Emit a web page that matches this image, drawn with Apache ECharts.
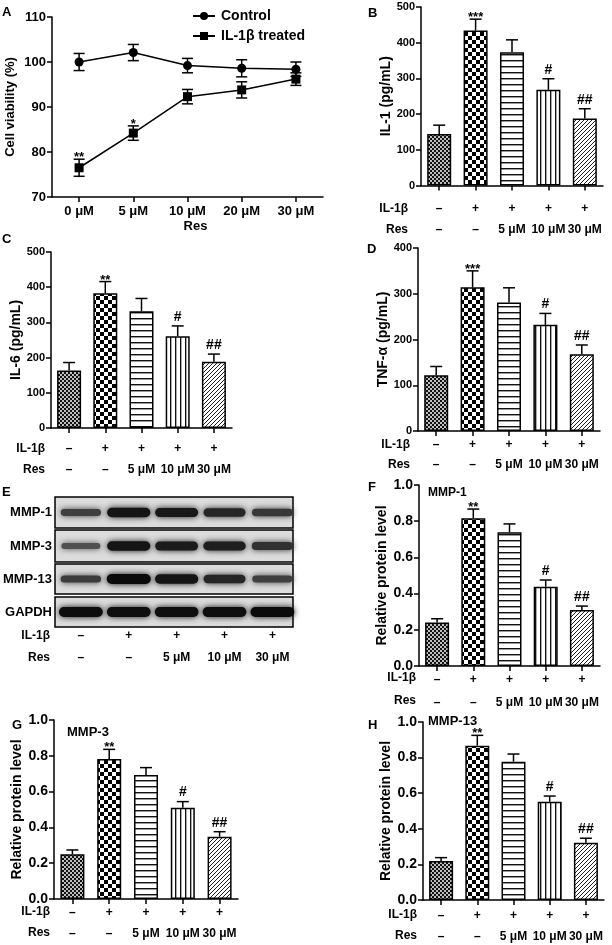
<!DOCTYPE html>
<html>
<head>
<meta charset="utf-8">
<script src="https://cdn.jsdelivr.net/npm/echarts@6.0.0/dist/echarts.min.js"></script>
<style>html,body{margin:0;padding:0;background:#fff;}#chart{width:612px;height:945px;}</style>
</head>
<body>
<div id="chart"></div>
<script>
// ---------------- data ----------------
const doseCategories = ['0 μM', '5 μM', '10 μM', '20 μM', '30 μM'];
const controlMean = [100.0, 102.1, 99.2, 98.6, 98.4];
const controlSem  = [1.9, 1.8, 1.6, 1.9, 1.6];
const treatedMean = [76.5, 84.2, 92.3, 93.8, 96.2];
const treatedSem  = [1.9, 1.6, 1.6, 1.8, 1.4];
const treatedMarks = ['**', '*', '', '', ''];
const controlMarks = ['', '', '', '', ''];

const il1bRow = ['–', '+', '+', '+', '+'];
const resRow  = ['–', '–', '5 μM', '10 μM', '30 μM'];

const il1Mean = [144, 434, 373, 268, 188];
const il1Sem  = [25, 32, 35, 31, 27];
const il1Marks = ['', '***', '', '#', '##'];

const il6Mean = [163, 383, 332, 261, 188];
const il6Sem  = [23, 33, 36, 29, 22];
const il6Marks = ['', '**', '', '#', '##'];

const tnfMean = [122, 314, 281, 232, 168];
const tnfSem  = [19, 36, 32, 25, 20];
const tnfMarks = ['', '***', '', '#', '##'];

const mmp1Mean = [0.240, 0.816, 0.739, 0.438, 0.309];
const mmp1Sem  = [0.021, 0.051, 0.046, 0.037, 0.022];
const mmp3Mean = [0.250, 0.782, 0.693, 0.510, 0.348];
const mmp3Sem  = [0.024, 0.054, 0.041, 0.034, 0.028];
const mmp13Mean = [0.219, 0.867, 0.777, 0.552, 0.322];
const mmp13Sem  = [0.019, 0.058, 0.043, 0.032, 0.025];
const proteinMarks = ['', '**', '', '#', '##'];

const blotProteins = ['MMP-1', 'MMP-3', 'MMP-13', 'GAPDH'];
const mmp1Band  = [0.62, 0.92, 0.90, 0.80, 0.68];
const mmp3Band  = [0.50, 0.92, 0.88, 0.85, 0.72];
const mmp13Band = [0.64, 1.00, 0.93, 0.80, 0.62];
const gapdhBand = [0.98, 0.97, 0.97, 0.97, 0.99];

// ---------------- styles ----------------
const SANS = '"Liberation Sans", Arial, Helvetica, sans-serif';

function makePattern(kind) {
  const c = document.createElement('canvas');
  const ctx = c.getContext('2d');
  if (kind === 0) {            // fine checker
    c.width = 4; c.height = 4;
    ctx.fillStyle = '#c0c0c0'; ctx.fillRect(0, 0, 4, 4);
    ctx.fillStyle = '#111'; ctx.fillRect(0, 0, 2, 2); ctx.fillRect(2, 2, 2, 2);
  } else if (kind === 1) {     // coarse checker
    c.width = 8; c.height = 8;
    ctx.fillStyle = '#fff'; ctx.fillRect(0, 0, 8, 8);
    ctx.fillStyle = '#000'; ctx.fillRect(0, 0, 4, 4); ctx.fillRect(4, 4, 4, 4);
  } else if (kind === 2) {     // horizontal lines
    c.width = 4; c.height = 6;
    ctx.fillStyle = '#fff'; ctx.fillRect(0, 0, 4, 6);
    ctx.fillStyle = '#111'; ctx.fillRect(0, 0, 4, 1);
    ctx.fillStyle = '#999'; ctx.fillRect(0, 1, 4, 1);
  } else if (kind === 3) {     // vertical lines
    c.width = 5; c.height = 4;
    ctx.fillStyle = '#fff'; ctx.fillRect(0, 0, 5, 4);
    ctx.fillStyle = '#111'; ctx.fillRect(0, 0, 1, 4);
    ctx.fillStyle = '#aaa'; ctx.fillRect(1, 0, 1, 4);
  } else {                     // diagonal '/'
    c.width = 4; c.height = 4;
    ctx.fillStyle = '#fff'; ctx.fillRect(0, 0, 4, 4);
    ctx.fillStyle = '#222';
    for (let y = 0; y < 4; y++) ctx.fillRect(3 - y, y, 1, 1);
  }
  return { image: c, repeat: 'repeat' };
}
const barPatterns = [0, 1, 2, 3, 4].map(makePattern);

const AXIS_LINE = { show: true, onZero: false, lineStyle: { color: '#000', width: 1.5 } };
const AXIS_TICK = { show: true, length: 5, lineStyle: { color: '#000', width: 1.5 } };

function errRender(marks, capHalf, both) {
  return function (params, api) {
    const i = params.dataIndex;
    const x = api.value(0), m = api.value(1), e = api.value(2);
    const top = api.coord([x, m + e]);
    const bot = api.coord([x, both ? m - e : m]);
    const ls = { stroke: '#000', lineWidth: 1.5 };
    const children = [
      { type: 'line', shape: { x1: top[0], y1: top[1], x2: bot[0], y2: bot[1] }, style: ls },
      { type: 'line', shape: { x1: top[0] - capHalf, y1: top[1], x2: top[0] + capHalf, y2: top[1] }, style: ls }
    ];
    if (both) children.push({ type: 'line', shape: { x1: bot[0] - capHalf, y1: bot[1], x2: bot[0] + capHalf, y2: bot[1] }, style: ls });
    const a = marks[i];
    if (a) {
      const star = a[0] === '*';
      children.push({ type: 'text', style: {
        text: a, x: top[0], y: top[1] + (star ? 5 : -2), align: 'center', verticalAlign: 'bottom',
        fontSize: star ? 13 : 14, fontWeight: 'bold', fontFamily: SANS, fill: '#000' } });
    }
    return { type: 'group', children: children };
  };
}

const grids = [], xAxes = [], yAxes = [], series = [], graphics = [];

function txt(x, y, s, size, align, weight) {
  graphics.push({ type: 'text', x: x, y: y, silent: true, style: {
    text: s, fontSize: size, fontWeight: weight || 'bold', fontFamily: SANS, fill: '#000',
    align: align || 'left', verticalAlign: 'middle' } });
}

// ---------------- Panel A ----------------
grids.push({ left: 52, top: 17, width: 271, height: 180 });
xAxes.push({ type: 'category', gridIndex: 0, data: doseCategories, boundaryGap: true,
  axisLine: AXIS_LINE, axisTick: Object.assign({ alignWithLabel: true }, AXIS_TICK),
  axisLabel: { interval: 0, margin: 8, fontSize: 13, fontWeight: 'bold', fontFamily: SANS, color: '#000' },
  name: 'Res', nameLocation: 'middle', nameGap: 23,
  nameTextStyle: { fontSize: 13, fontWeight: 'bold', fontFamily: SANS, color: '#000', padding: [0, 0, 0, 16] } });
yAxes.push({ type: 'value', gridIndex: 0, min: 70, max: 110, interval: 10,
  axisLine: AXIS_LINE, axisTick: AXIS_TICK, splitLine: { show: false },
  axisLabel: { margin: 6, fontSize: 13, fontWeight: 'bold', fontFamily: SANS, color: '#000' },
  name: 'Cell viability (%)', nameLocation: 'middle', nameGap: 35,
  nameTextStyle: { fontSize: 13, fontWeight: 'bold', fontFamily: SANS, color: '#000' } });
series.push({ type: 'line', name: 'Control', xAxisIndex: 0, yAxisIndex: 0, data: controlMean,
  symbol: 'circle', symbolSize: 9, lineStyle: { color: '#000', width: 1.5 }, itemStyle: { color: '#000' }, z: 4 });
series.push({ type: 'line', name: 'IL-1β treated', xAxisIndex: 0, yAxisIndex: 0, data: treatedMean,
  symbol: 'rect', symbolSize: 9, lineStyle: { color: '#000', width: 1.5 }, itemStyle: { color: '#000' }, z: 4 });
series.push({ type: 'custom', xAxisIndex: 0, yAxisIndex: 0, z: 5,
  data: controlMean.map((v, i) => [i, v, controlSem[i]]), renderItem: errRender(controlMarks, 5.5, true) });
series.push({ type: 'custom', xAxisIndex: 0, yAxisIndex: 0, z: 5,
  data: treatedMean.map((v, i) => [i, v, treatedSem[i]]), renderItem: errRender(treatedMarks, 5.5, true) });

// ---------------- bar panels ----------------
function addBarPanel(o) {
  const gi = grids.length;
  grids.push({ left: o.left, top: o.top, width: o.width, height: o.height });
  xAxes.push({ type: 'category', gridIndex: gi, data: ['0', '1', '2', '3', '4'], boundaryGap: true,
    axisLine: AXIS_LINE, axisTick: Object.assign({ alignWithLabel: true }, AXIS_TICK),
    axisLabel: { interval: 0, margin: o.lm, lineHeight: o.lh, fontSize: 12, fontWeight: 'bold', fontFamily: SANS, color: '#000',
      formatter: (v, i) => il1bRow[i] + '\n' + resRow[i] } });
  yAxes.push({ type: 'value', gridIndex: gi, min: 0, max: o.max, interval: o.interval,
    axisLine: AXIS_LINE, axisTick: AXIS_TICK, splitLine: { show: false },
    axisLabel: { margin: 6, fontSize: o.narrow ? 11 : 14, fontWeight: 'bold', fontFamily: SANS, color: '#000',
      formatter: o.narrow ? null : (v) => v.toFixed(1) },
    name: o.name, nameLocation: 'middle', nameGap: o.nameGap,
    nameTextStyle: { fontSize: 14, fontWeight: 'bold', fontFamily: SANS, color: '#000' } });
  series.push({ type: 'bar', xAxisIndex: gi, yAxisIndex: gi, barWidth: 24, silent: true,
    data: o.mean.map((v, i) => ({ value: v, itemStyle: { color: barPatterns[i] } })),
    itemStyle: { borderColor: '#000', borderWidth: 1.5 } });
  series.push({ type: 'custom', xAxisIndex: gi, yAxisIndex: gi, z: 5,
    data: o.mean.map((v, i) => [i, v, o.sem[i]]), renderItem: errRender(o.marks, 6, false) });
}

addBarPanel({ left: 421, top: 7, width: 182, height: 178.5, max: 500, interval: 100, narrow: true,
  name: 'IL-1 (pg/mL)', nameGap: 24, mean: il1Mean, sem: il1Sem, marks: il1Marks, lm: 13, lh: 21 });
addBarPanel({ left: 51, top: 252, width: 181, height: 176, max: 500, interval: 100, narrow: true,
  name: 'IL-6 (pg/mL)', nameGap: 23, mean: il6Mean, sem: il6Sem, marks: il6Marks, lm: 10, lh: 21 });
addBarPanel({ left: 418, top: 248, width: 182, height: 183, max: 400, interval: 100, narrow: true,
  name: 'TNF-α (pg/mL)', nameGap: 23, mean: tnfMean, sem: tnfSem, marks: tnfMarks, lm: 4, lh: 20 });

// ---------------- Panel E (blot) ----------------
const bandRows = [mmp1Band, mmp3Band, mmp13Band, gapdhBand];
const blotBoxes = [[497, 31], [530, 32], [564, 30], [597, 30]];
bandRows.forEach((row, r) => {
  const gi = grids.length;
  grids.push({ left: 55, top: blotBoxes[r][0], width: 238, height: blotBoxes[r][1], show: true,
    backgroundColor: '#dcdcdc', borderColor: '#000', borderWidth: 1.5 });
  xAxes.push({ type: 'value', gridIndex: gi, min: -0.54, max: 4.43, show: false });
  yAxes.push({ type: 'category', gridIndex: gi, data: [blotProteins[r]],
    axisLine: { show: false }, axisTick: { show: false }, splitLine: { show: false },
    axisLabel: { margin: 3, fontSize: 13, fontWeight: 'bold', fontFamily: SANS, color: '#000' } });
  const last = r === bandRows.length - 1;
  series.push({ type: 'custom', xAxisIndex: gi, yAxisIndex: gi, clip: false,
    data: row.map((d, i) => [i, 0, d]),
    renderItem: function (params, api) {
      const lane = api.value(0), d = api.value(2);
      const c = api.coord([lane, 0]);
      const w = 34 + 10 * d, h = 2 + 8 * d;
      const g = Math.round(150 - 140 * d);
      const col = 'rgb(' + g + ',' + g + ',' + g + ')';
      const children = [{ type: 'rect', shape: { x: c[0] - w / 2, y: c[1] - h / 2, width: w, height: h, r: h / 2 },
        style: { fill: col, shadowBlur: 6, shadowColor: col } }];
      if (last) {
        const by = params.coordSys.y + params.coordSys.height;
        children.push({ type: 'text', style: { text: il1bRow[params.dataIndex], x: c[0], y: by + 9, align: 'center', verticalAlign: 'middle',
          fontSize: 12, fontWeight: 'bold', fontFamily: SANS, fill: '#000' } });
        children.push({ type: 'text', style: { text: resRow[params.dataIndex], x: c[0], y: by + 31, align: 'center', verticalAlign: 'middle',
          fontSize: 12, fontWeight: 'bold', fontFamily: SANS, fill: '#000' } });
      }
      return { type: 'group', children: children };
    } });
});

// ---------------- Panels F, G, H ----------------
addBarPanel({ left: 419, top: 485, width: 181, height: 181, max: 1, interval: 0.2, narrow: false,
  name: 'Relative protein level', nameGap: 28, mean: mmp1Mean, sem: mmp1Sem, marks: proteinMarks, lm: 2, lh: 23 });
addBarPanel({ left: 54, top: 720, width: 184, height: 179, max: 1, interval: 0.2, narrow: false,
  name: 'Relative protein level', nameGap: 28, mean: mmp3Mean, sem: mmp3Sem, marks: proteinMarks, lm: 3, lh: 21 });
addBarPanel({ left: 423, top: 722, width: 181, height: 178, max: 1, interval: 0.2, narrow: false,
  name: 'Relative protein level', nameGap: 30, mean: mmp13Mean, sem: mmp13Sem, marks: proteinMarks, lm: 5, lh: 21 });

// ---------------- texts ----------------
txt(2, 12, 'A', 13); txt(368, 13, 'B', 13); txt(2, 239, 'C', 13); txt(367, 249, 'D', 13);
txt(2, 492, 'E', 13); txt(368, 487, 'F', 13); txt(12, 725, 'G', 13); txt(368, 725, 'H', 13);

[[408, 209, 230], [45, 449, 470], [410, 445, 465], [50, 636, 658], [416, 678, 701], [50, 912, 933], [417, 915, 936]]
  .forEach(p => { txt(p[0], p[1], 'IL-1β', 12, 'right'); txt(p[0], p[2], 'Res', 12, 'right'); });

txt(428, 493, 'MMP-1', 12); txt(67, 732, 'MMP-3', 13); txt(428, 721, 'MMP-13', 13);

const chart = echarts.init(document.getElementById('chart'), null, { renderer: 'canvas', width: 612, height: 945 });
chart.setOption({
  backgroundColor: '#fff',
  animation: false,
  grid: grids.map(g => Object.assign({ containLabel: false, outerBoundsMode: 'none' }, g)),
  xAxis: xAxes,
  yAxis: yAxes,
  legend: { data: ['Control', 'IL-1β treated'], orient: 'vertical', left: 187, top: 4,
    itemWidth: 22, itemHeight: 10, itemGap: 6,
    textStyle: { fontSize: 14, fontWeight: 'bold', fontFamily: SANS, color: '#000', padding: [0, 0, 0, 1] } },
  series: series,
  graphic: graphics
});
</script>
</body>
</html>
